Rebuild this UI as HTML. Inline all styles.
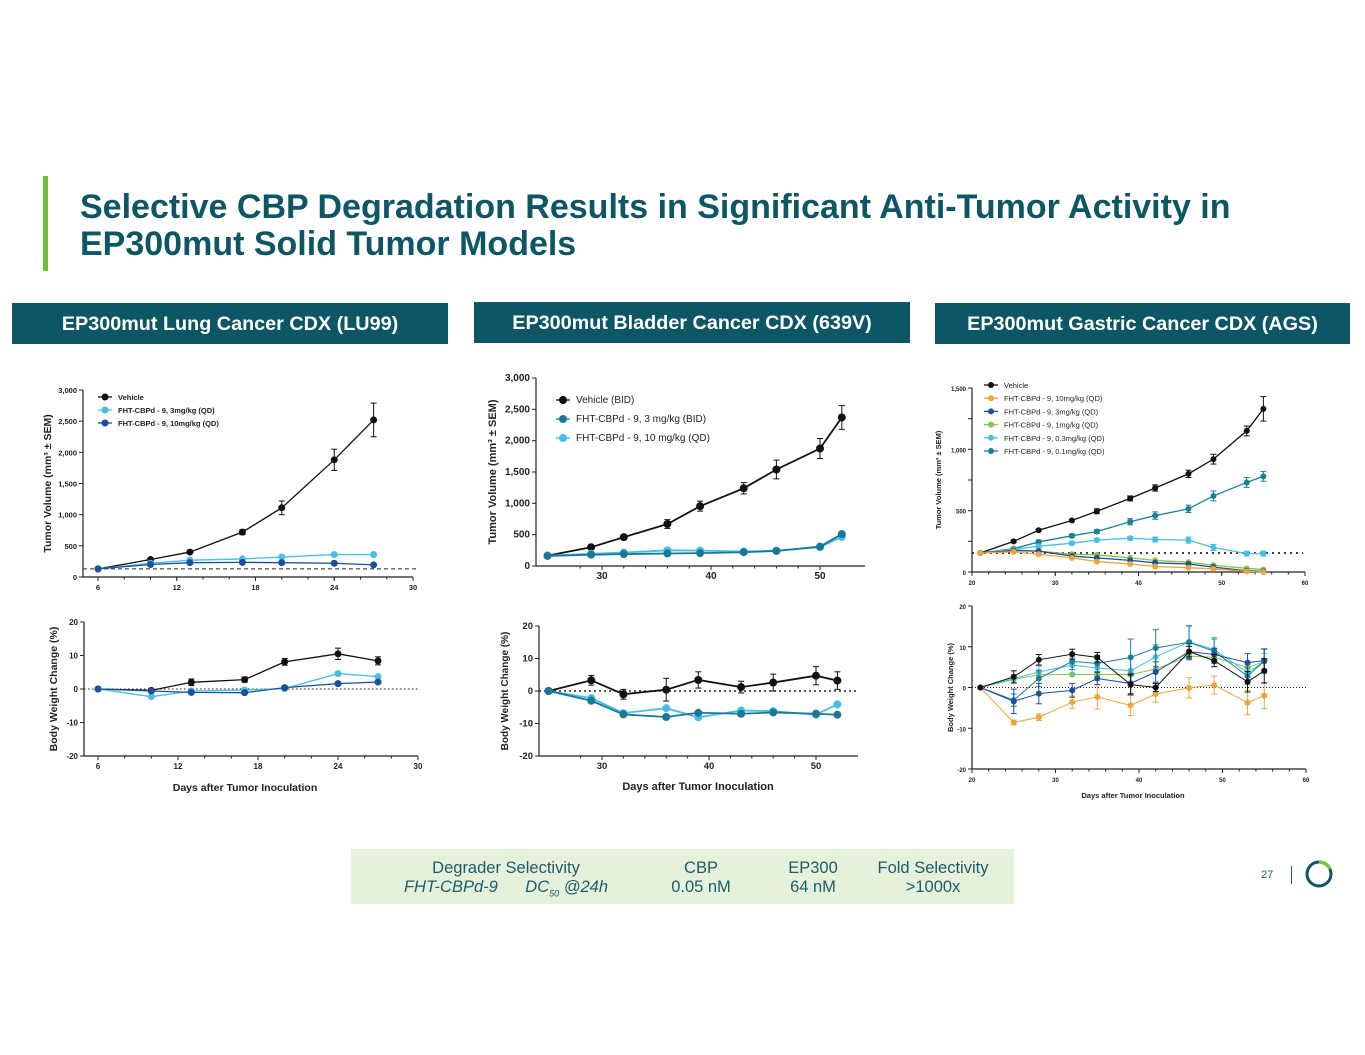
<!DOCTYPE html>
<html><head><meta charset="utf-8">
<style>
body{margin:0;width:1365px;height:1055px;background:#fff;font-family:"Liberation Sans",sans-serif;position:relative;overflow:hidden}
.hdr{position:absolute;background:#0d5666;color:#fff;font-weight:bold;font-size:19.8px;text-align:center;line-height:43px;height:41px}
svg{position:absolute;left:0;top:0}
</style></head><body>
<div style="position:absolute;left:43px;top:176px;width:5px;height:95px;background:#6cbf3a"></div>
<div style="position:absolute;left:80px;top:189px;font-size:34px;font-weight:bold;color:#0d5666;line-height:37px;white-space:nowrap">Selective CBP Degradation Results in Significant Anti-Tumor Activity in<br>EP300mut Solid Tumor Models</div>
<div class="hdr" style="left:12px;top:303px;width:436px">EP300mut Lung Cancer CDX (LU99)</div>
<div class="hdr" style="left:474px;top:302px;width:436px">EP300mut Bladder Cancer CDX (639V)</div>
<div class="hdr" style="left:935px;top:303px;width:415px">EP300mut Gastric Cancer CDX (AGS)</div>
<div style="position:absolute;left:351px;top:849px;width:663px;height:55px;background:#e5f1da;color:#1d5c6b;font-size:16.5px;line-height:19px">
<div style="position:absolute;left:20px;top:10px;width:270px;text-align:center">Degrader Selectivity<br><i>FHT-CBPd-9 &nbsp;&nbsp;&nbsp;&nbsp; DC<sub style="font-size:9px">50</sub> @24h</i></div>
<div style="position:absolute;left:300px;top:10px;width:100px;text-align:center">CBP<br>0.05 nM</div>
<div style="position:absolute;left:412px;top:10px;width:100px;text-align:center">EP300<br>64 nM</div>
<div style="position:absolute;left:507px;top:10px;width:150px;text-align:center">Fold Selectivity<br>&gt;1000x</div>
</div>
<div style="position:absolute;left:1261px;top:869px;font-size:11px;color:#1d5c6b">27</div>
<div style="position:absolute;left:1291px;top:866px;width:1px;height:18px;background:#1d5c6b"></div>
<svg style="left:1303px;top:858px" width="32" height="32"><circle cx="16" cy="16" r="12" fill="none" stroke="#0d5666" stroke-width="3"/><path d="M16 4 A12 12 0 0 1 27 11" fill="none" stroke="#7cc242" stroke-width="3.5"/></svg>
<svg id="c" width="1365" height="1055"></svg>
<script>
// ---- Lung (LU99) data ----
const lungDays=[6,10,13,17,20,24,27];
const lungVeh=[130,280,400,720,1110,1880,2520];
const lungVehErr=[0,20,20,40,110,170,270];
const lung3=[130,220,270,290,320,360,360];
const lung10=[130,200,230,235,230,220,195];
const lungBwVeh=[0,-0.4,2,2.8,8.1,10.5,8.4];
const lungBw3=[0,-2.3,-0.6,-0.3,0.1,4.6,3.7];
const lungBw10=[0,-0.6,-1,-1.1,0.4,1.6,2.1];
const lungYTicks=["0","500","1,000","1,500","2,000","2,500","3,000"];
const lungXTicks=[6,12,18,24,30];
// ---- Bladder (639V) data ----
const blDays=[25,29,32,36,39,43,46,50,52];
const blVeh=[165,300,460,670,955,1240,1540,1875,2370];
const blVehErr=[0,30,40,70,80,90,150,160,190];
const bl3=[160,180,190,200,205,220,240,310,510];
const bl10=[165,195,215,250,245,230,245,300,465];
const blBwVeh=[0,3.3,-1,0.4,3.4,1.2,2.6,4.7,3.2];
const blBw3=[0,-3,-7.2,-8,-6.7,-7,-6.6,-7,-7.3];
const blBw10=[0,-2.2,-6.8,-5.3,-8.1,-6,-6.2,-7.3,-4.1];
const blXTicks=[30,40,50];
// ---- Gastric (AGS) data ----
const gaDays=[21,25,28,32,35,39,42,46,49,53,55];
const gaVeh=[155,250,340,420,495,600,685,800,920,1150,1330];
const gaVehErr=[0,10,10,10,20,20,25,30,40,40,100];
const ga10=[155,165,145,115,85,65,45,35,25,5,0];
const ga3=[155,175,170,130,115,95,75,65,40,10,5];
const ga1=[155,180,170,145,140,115,95,80,55,30,20];
const ga03=[155,185,210,235,260,275,265,260,200,150,150];
const ga01=[155,190,245,295,330,410,460,515,620,730,780];
const gaBwVeh=[0,2.6,6.8,8.2,7.4,0.7,0,8.8,6.6,1.4,4.1];
const gaBw10=[0,-8.6,-7.3,-3.6,-2.3,-4.4,-1.6,-0.1,0.6,-3.7,-2];
const gaBw3=[0,-3.4,-1.5,-0.7,2.2,1,3.8,8.8,8.1,6.1,6.6];
const gaBw1=[0,2,3.1,3.2,3.2,3.2,4.5,7.7,7.4,4.9,6.4];
const gaBw03=[0,2.2,3.8,5.5,4.8,4.1,7.5,11.2,9.3,3.6,6.4];
const gaBw01=[0,-3.1,2.2,6.4,5.9,7.4,9.7,11.1,8.9,2.8,6.5];
const gaXTicks=[20,30,40,50,60];
const bwTicks=["-20","-10","0","10","20"];

const NS="http://www.w3.org/2000/svg";
const svg=document.getElementById('c');
function el(t,a,p){const e=document.createElementNS(NS,t);for(const k in a)e.setAttribute(k,a[k]);(p||svg).appendChild(e);return e;}
function txt(x,y,s,o,p){const e=el('text',Object.assign({x:x,y:y,'font-size':9,'font-weight':'bold','fill':'#222','font-family':'Liberation Sans, sans-serif'},o||{}),p);e.textContent=s;return e;}

function chart(c){
  const g=el('g',{});
  
  
  const sx=d=>c.px0+(d-c.x0)*(c.px1-c.px0)/(c.x1-c.x0);
  const sy=v=>c.py0+(v-c.y0)*(c.py1-c.py0)/(c.y1-c.y0);
  el('line',{x1:c.ax,y1:c.py0,x2:c.ax,y2:c.py1,stroke:'#222','stroke-width':1.2},g);
  el('line',{x1:c.ax,y1:c.py0,x2:c.axEnd,y2:c.py0,stroke:'#222','stroke-width':1.2},g);
  c.yt.forEach((s,i)=>{const v=c.y0+i*(c.y1-c.y0)/(c.yt.length-1);const y=sy(v);
    el('line',{x1:c.ax-4,y1:y,x2:c.ax,y2:y,stroke:'#222'},g);
    txt(c.ax-6,y+3,s,{'text-anchor':'end','font-size':c.fs},g);});
  c.xt.forEach(d=>{const x=sx(d);el('line',{x1:x,y1:c.py0,x2:x,y2:c.py0+4,stroke:'#222'},g);
    txt(x,c.py0+13,String(d),{'text-anchor':'middle','font-size':c.fs},g);});
  if(c.minor){for(let d=c.xt[0]-c.minor;d<=c.xt[c.xt.length-1];d+=c.minor){const x=sx(d);if(x>=c.ax&&x<=c.axEnd)el('line',{x1:x,y1:c.py0,x2:x,y2:c.py0+2.5,stroke:'#222'},g);}}
  if(c.ref!=null){const y=sy(c.ref);el('line',{x1:c.ax,y1:y,x2:c.refEnd||c.axEnd,y2:y,stroke:'#222','stroke-dasharray':c.refDash||'2,2','stroke-width':c.refW||1},g);}
  const yl=txt(c.ytx,(c.py0+c.py1)/2,c.ytitle,{'text-anchor':'middle','font-size':c.tfs,transform:`rotate(-90 ${c.ytx} ${(c.py0+c.py1)/2})`},g);
  
  if(c.xtitle){const xl=txt((c.px0+c.px1)/2+c.xtOff,c.xty,c.xtitle,{'text-anchor':'middle','font-size':c.xtfs||11},g);}
  c.series.forEach(s=>{
    const sg=el('g',{},g);
    
    
    const pts=c.days.map((d,i)=>sx(d)+','+sy(s.v[i])).join(' ');
    el('polyline',{points:pts,fill:'none',stroke:s.col,'stroke-width':c.lw||1.3},sg);
    c.days.forEach((d,i)=>{
      if(s.err&&s.err[i]){const x=sx(d);el('line',{x1:x,y1:sy(s.v[i]-s.err[i]),x2:x,y2:sy(s.v[i]+s.err[i]),stroke:s.col},sg);
        [s.v[i]-s.err[i],s.v[i]+s.err[i]].forEach(v=>el('line',{x1:x-3,y1:sy(v),x2:x+3,y2:sy(v),stroke:s.col},sg));}
      el('circle',{cx:sx(d),cy:sy(s.v[i]),r:c.r||3.5,fill:s.col},sg);
    });
  });
  if(c.legend){c.legend.forEach((s,i)=>{const y=c.lgy+i*c.lgdy;
    el('line',{x1:c.lgx,y1:y,x2:c.lgx+14,y2:y,stroke:s.col,'stroke-width':1.3},g);
    el('circle',{cx:c.lgx+7,cy:y,r:c.r||3.5,fill:s.col},g);
    const t=txt(c.lgx+20,y+3,s.label,{'font-size':c.lgfs,'font-weight':c.lgbold?'bold':'normal'},g);
    });}
}
const K='#111',LB='#45bfe6',DB='#1b4f9c',OR='#eea43a',GR='#86c443',TL='#1a8096',BT='#1a7896';
chart({name:'lung-tumor-volume',days:lungDays,x0:6,x1:30,px0:98,px1:413,y0:0,y1:3000,py0:577,py1:390,ax:83,axEnd:413,
 yt:lungYTicks,xt:lungXTicks,minor:2,fs:7.5,tfs:10.5,ytx:51,ytitle:'Tumor Volume (mm³ ± SEM)',ref:130,refDash:'4,3',refEnd:418,
 series:[{name:'lung-vehicle',v:lungVeh,err:lungVehErr,col:K},{name:'lung-3mg',v:lung3,col:LB},{name:'lung-10mg',v:lung10,col:DB}],
 legend:[{col:K,label:'Vehicle'},{col:LB,label:'FHT-CBPd - 9, 3mg/kg (QD)'},{col:DB,label:'FHT-CBPd - 9, 10mg/kg (QD)'}],lgx:98,lgy:397,lgdy:13,lgfs:7.5,lgbold:true});
chart({name:'lung-body-weight',days:lungDays,x0:6,x1:30,px0:98,px1:418,y0:-20,y1:20,py0:756,py1:622,ax:84,axEnd:418,
 yt:bwTicks,xt:lungXTicks,minor:2,fs:8,tfs:10.5,ytx:57,ytitle:'Body Weight Change (%)',ref:0,refDash:'1.5,2.5',
 xtitle:'Days after Tumor Inoculation',xty:791,xtOff:-13,xtfs:10.5,
 series:[{name:'lung-bw-vehicle',v:lungBwVeh,err:[0,0.5,1,0.8,1,1.7,1.2],col:K},{name:'lung-bw-3mg',v:lungBw3,col:LB},{name:'lung-bw-10mg',v:lungBw10,col:DB}]});
chart({name:'bladder-tumor-volume',days:blDays,x0:30,x1:50,px0:602,px1:820,y0:0,y1:3000,py0:566,py1:378,ax:536,axEnd:865,
 yt:["0","500","1,000","1,500","2,000","2,500","3,000"],xt:blXTicks,minor:2,fs:10,tfs:11,ytx:496,ytitle:'Tumor Volume (mm³ ± SEM)',lw:1.8,r:4,
 series:[{name:'bladder-vehicle',v:blVeh,err:blVehErr,col:K},{name:'bladder-10mg',v:bl10,col:LB},{name:'bladder-3mg',v:bl3,col:BT}],
 legend:[{col:K,label:'Vehicle (BID)'},{col:BT,label:'FHT-CBPd - 9, 3 mg/kg (BID)'},{col:LB,label:'FHT-CBPd - 9, 10 mg/kg (QD)'}],lgx:556,lgy:400,lgdy:19,lgfs:10,lgbold:false});
chart({name:'bladder-body-weight',days:blDays,x0:30,x1:50,px0:602,px1:816,y0:-20,y1:20,py0:756,py1:626,ax:539,axEnd:858,
 yt:bwTicks,xt:blXTicks,minor:2,fs:9.5,tfs:10,ytx:508,ytitle:'Body Weight Change (%)',ref:0,refDash:'2,3',refW:1.5,lw:1.8,r:4,
 xtitle:'Days after Tumor Inoculation',xty:790,xtOff:-11,xtfs:11,
 series:[{name:'bladder-bw-vehicle',v:blBwVeh,err:[0,1.5,1.5,3.5,2.5,1.8,2.6,2.8,2.7],col:K},{name:'bladder-bw-10mg',v:blBw10,col:LB},{name:'bladder-bw-3mg',v:blBw3,col:BT}]});
chart({name:'gastric-tumor-volume',days:gaDays,x0:20,x1:60,px0:972,px1:1305,y0:0,y1:1500,py0:572,py1:388,ax:972,axEnd:1305,
 yt:["0","","500","","1,000","","1,500"],xt:gaXTicks,minor:2,fs:6,tfs:7.5,ytx:941,ytitle:'Tumor Volume (mm³ ± SEM)',ref:155,refDash:'2,4',refW:1.8,refEnd:1303,r:3,
 series:[{name:'gastric-vehicle',v:gaVeh,err:gaVehErr,col:K},{name:'gastric-0.1mg',v:ga01,err:[0,10,15,15,15,25,30,30,40,40,40],col:TL},{name:'gastric-0.3mg',v:ga03,err:[0,10,15,15,15,15,20,25,25,20,20],col:LB},{name:'gastric-1mg',v:ga1,col:GR},{name:'gastric-3mg',v:ga3,col:DB},{name:'gastric-10mg',v:ga10,col:OR}],
 legend:[{col:K,label:'Vehicle'},{col:OR,label:'FHT-CBPd - 9, 10mg/kg (QD)'},{col:DB,label:'FHT-CBPd - 9, 3mg/kg (QD)'},{col:GR,label:'FHT-CBPd - 9, 1mg/kg (QD)'},{col:LB,label:'FHT-CBPd - 9, 0.3mg/kg (QD)'},{col:TL,label:'FHT-CBPd - 9, 0.1mg/kg (QD)'}],lgx:984,lgy:385,lgdy:13.2,lgfs:7.5,lgbold:false});
chart({name:'gastric-body-weight',days:gaDays,x0:20,x1:60,px0:972,px1:1306,y0:-20,y1:20,py0:769,py1:606,ax:972,axEnd:1306,
 yt:bwTicks,xt:gaXTicks,minor:2,fs:6,tfs:7.5,ytx:953,ytitle:'Body Weight Change (%)',ref:0,refDash:'1,2',r:3,lw:1,
 xtitle:'Days after Tumor Inoculation',xty:798,xtOff:-6,xtfs:7.5,
 series:[{name:'gastric-bw-10mg',v:gaBw10,err:[0,0.6,0.8,1.5,3,2.5,2,2.5,2.2,3,3.2],col:OR},{name:'gastric-bw-1mg',v:gaBw1,col:GR},{name:'gastric-bw-0.3mg',v:gaBw03,err:[0,1,1.5,2,2,3,3,4,3,2,2],col:LB},{name:'gastric-bw-0.1mg',v:gaBw01,err:[0,1.5,2,2,2,4.5,4.5,4,3,2,3],col:TL},{name:'gastric-bw-3mg',v:gaBw3,err:[0,3,2.5,1.7,1.5,2.5,2.5,2,1.5,2.2,2.8],col:DB},{name:'gastric-bw-vehicle',v:gaBwVeh,err:[0,1.5,1.3,1.2,1.2,2.5,1,1.3,1.5,2.5,3],col:K}]});
</script>
</body></html>
